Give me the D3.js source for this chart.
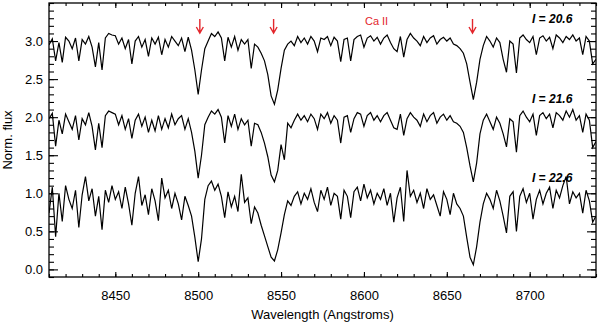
<!DOCTYPE html>
<html>
<head>
<meta charset="utf-8">
<script src="https://cdn.jsdelivr.net/npm/d3@7"></script>
<style>
  body { margin: 0; background: #fff; }
  svg { display: block; }
  text { font-family: "Liberation Sans", Arial, Helvetica, sans-serif; }
</style>
</head>
<body>
<svg id="chart"></svg>
<script>
// wavelength grid of the spectra (2 A bins)
const waveStart = 8410, waveStep = 2;

// I = 20.6
const fluxBright = [
  2.95, 3.03, 2.74, 2.98, 2.72, 3.05, 3.00, 2.90, 3.04, 2.74,
  3.02, 2.96, 3.06, 2.92, 2.66, 2.98, 2.62, 3.04, 3.10, 3.08,
  3.07, 2.96, 3.04, 2.90, 3.02, 2.70, 3.00, 3.06, 2.92, 3.02,
  2.80, 3.04, 2.96, 3.05, 2.82, 3.02, 2.92, 3.06, 3.00, 2.94,
  3.04, 2.86, 3.05, 2.88, 2.62, 2.30, 2.62, 2.90, 3.00, 3.10,
  3.06, 3.12, 3.04, 2.74, 3.05, 2.92, 3.06, 2.88, 3.02, 2.96,
  3.02, 2.64, 2.96, 2.92, 2.84, 2.74, 2.56, 2.28, 2.17, 2.36,
  2.64, 2.88, 2.96, 3.00, 2.94, 3.06, 2.98, 3.04, 2.96, 3.06,
  3.00, 2.86, 3.04, 3.02, 3.06, 2.94, 3.05, 3.00, 2.73, 3.02,
  3.04, 2.74, 3.02, 3.06, 3.08, 2.92, 3.04, 3.07, 3.00, 3.05,
  2.96, 3.04, 3.08, 2.98, 2.90, 2.86, 3.06, 2.79, 3.02, 3.10,
  3.04, 3.00, 2.94, 3.06, 2.98, 3.04, 3.07, 2.96, 3.02, 3.05,
  3.00, 3.04, 2.96, 2.94, 2.90, 2.84, 2.70, 2.46, 2.23, 2.46,
  2.76, 2.94, 3.06, 3.00, 2.92, 3.04, 2.98, 2.76, 2.59, 3.00,
  2.96, 2.58, 3.04, 3.08, 3.02, 2.98, 3.06, 2.82, 3.04, 3.07,
  3.00, 3.05, 2.90, 3.08, 3.04, 2.98, 3.06, 3.02, 3.08, 3.00,
  3.04, 2.82, 3.06, 3.00, 2.70, 2.76
];

// I = 21.6
const fluxMid = [
  1.98, 2.05, 1.62, 1.96, 1.78, 2.04, 1.94, 1.84, 2.02, 1.70,
  1.98, 1.90, 2.06, 1.88, 1.57, 1.92, 1.60, 2.02, 2.08, 2.06,
  2.04, 1.90, 2.02, 1.84, 1.98, 1.72, 1.96, 2.04, 1.88, 2.00,
  1.80, 1.96, 1.82, 2.02, 1.84, 1.98, 1.86, 2.04, 1.90, 1.98,
  2.02, 1.84, 1.98, 1.80, 1.55, 1.20, 1.50, 1.90, 2.00, 2.08,
  2.04, 2.10, 2.00, 1.66, 2.02, 1.88, 2.04, 1.84, 1.98, 1.90,
  1.96, 1.62, 1.92, 1.90, 1.80, 1.66, 1.48, 1.24, 1.15, 1.30,
  1.64, 1.44, 1.92, 1.86, 1.96, 2.04, 1.96, 2.02, 1.94, 2.04,
  1.98, 1.84, 2.04, 1.98, 2.06, 1.92, 2.02, 1.96, 1.66, 2.00,
  2.02, 1.80, 1.98, 2.06, 2.04, 1.88, 2.02, 2.06, 1.96, 2.02,
  1.94, 2.02, 2.06, 1.96, 1.86, 1.84, 2.04, 1.76, 1.98, 2.06,
  2.00, 1.96, 1.88, 2.04, 1.94, 2.02, 2.06, 1.92, 2.00, 2.04,
  1.96, 2.02, 1.94, 1.92, 1.88, 1.80, 1.60, 1.36, 1.15, 1.40,
  1.78, 1.96, 2.04, 1.94, 1.84, 2.00, 1.92, 1.78, 1.61, 1.98,
  1.94, 1.54, 2.02, 2.08, 2.00, 1.94, 2.04, 1.76, 2.02, 2.06,
  1.98, 2.04, 1.86, 2.06, 2.02, 1.96, 2.08, 2.00, 2.10, 1.96,
  2.02, 1.80, 2.04, 1.96, 1.60, 1.68
];

// I = 22.6
const fluxFaint = [
  0.74, 1.08, 0.43, 1.00, 0.63, 1.10, 0.92, 0.80, 1.04, 0.55,
  0.98, 1.22, 0.90, 1.06, 0.70, 0.96, 0.52, 1.04, 0.88, 1.10,
  0.92, 1.02, 0.80, 1.08, 0.86, 0.58, 1.00, 1.22, 0.84, 0.98,
  0.72, 1.06, 0.90, 0.64, 1.20, 0.94, 1.04, 0.80, 1.00, 0.86,
  0.65, 0.96, 0.84, 0.70, 0.42, 0.10, 0.40, 0.92, 1.10, 1.16,
  1.04, 1.12, 0.96, 0.68, 1.02, 0.82, 0.96, 0.76, 1.25, 0.88,
  0.94, 0.60, 0.82, 0.74, 0.58, 0.44, 0.30, 0.16, 0.11, 0.26,
  0.48, 0.72, 0.90, 0.84, 0.96, 1.02, 0.86, 1.00, 0.92, 1.06,
  0.88, 0.76, 1.04, 0.92, 1.08, 0.84, 1.00, 0.96, 0.66, 1.04,
  0.96, 0.68, 1.02, 1.08, 0.90, 1.12, 0.94, 1.04, 0.86, 1.00,
  0.92, 1.06, 0.84, 1.00, 0.62, 0.94, 1.08, 0.63, 1.30, 0.96,
  1.04, 0.88, 1.00, 0.80, 1.06, 0.92, 0.98, 0.84, 0.70, 1.02,
  0.92, 0.72, 1.00, 0.86, 0.80, 0.70, 0.42, 0.16, 0.06, 0.30,
  0.62, 0.86, 1.00, 0.92, 0.80, 1.04, 0.90, 0.70, 0.48, 0.96,
  1.02, 0.50, 0.96, 1.06, 0.88, 1.00, 0.66, 0.92, 1.04, 0.86,
  1.00, 1.08, 0.80, 1.04, 0.94, 1.10, 1.22, 0.86, 1.02, 0.94,
  1.00, 0.74, 1.04, 0.90, 0.62, 0.70
];

const spectra = [fluxBright, fluxMid, fluxFaint];
const magLabels = ["20.6", "21.6", "22.6"];
const caLines = [8501, 8545.5, 8665.5];   // arrows (observed Ca II triplet)

const xMajor = d3.range(8450, 8701, 50);
const xMinor = d3.range(8410, 8741, 10);
const yMajor = [0, 0.5, 1, 1.5, 2, 2.5, 3];
const yMinor = d3.range(-0.1, 3.51, 0.1);

const width = 600, height = 324;
const margin = { top: 3, left: 49, bottom: 47, right: 4 };
const red = "#e3262b";

const svg = d3.select("#chart").attr("width", width).attr("height", height);

const x = d3.scaleLinear().domain([8410, 8740]).range([margin.left, width - margin.right]);
const y = d3.scaleLinear().domain([-0.1, 3.5]).range([height - margin.bottom, margin.top]);

const x0 = x.range()[0], x1 = x.range()[1], yb = y.range()[0], yt = y.range()[1];

function styleAxis(g) {
  g.select(".domain").remove();
  g.selectAll("line").attr("stroke", "#000").attr("stroke-width", 1.1);
  g.selectAll("text").attr("font-family", '"Liberation Sans", Arial, sans-serif')
    .attr("font-size", 13).attr("fill", "#000");
}

// bottom
svg.append("g").attr("transform", `translate(0,${yb})`)
  .call(d3.axisBottom(x).tickValues(xMinor).tickSize(-3).tickFormat(""))
  .call(styleAxis);
svg.append("g").attr("transform", `translate(0,${yb})`)
  .call(d3.axisBottom(x).tickValues(xMajor).tickSize(-5).tickPadding(14).tickFormat(d3.format("d")))
  .call(styleAxis);
// top
svg.append("g").attr("transform", `translate(0,${yt})`)
  .call(d3.axisTop(x).tickValues(xMinor).tickSize(-3).tickFormat(""))
  .call(styleAxis);
svg.append("g").attr("transform", `translate(0,${yt})`)
  .call(d3.axisTop(x).tickValues(xMajor).tickSize(-5).tickFormat(""))
  .call(styleAxis);
// left
svg.append("g").attr("transform", `translate(${x0},0)`)
  .call(d3.axisLeft(y).tickValues(yMinor).tickSize(-5).tickFormat(""))
  .call(styleAxis);
svg.append("g").attr("transform", `translate(${x0},0)`)
  .call(d3.axisLeft(y).tickValues(yMajor).tickSize(-9).tickPadding(6).tickFormat(d3.format(".1f")))
  .call(styleAxis);
// right
svg.append("g").attr("transform", `translate(${x1},0)`)
  .call(d3.axisRight(y).tickValues(yMinor).tickSize(-5).tickFormat(""))
  .call(styleAxis);
svg.append("g").attr("transform", `translate(${x1},0)`)
  .call(d3.axisRight(y).tickValues(yMajor).tickSize(-9).tickFormat(""))
  .call(styleAxis);

svg.append("defs").append("clipPath").attr("id", "plot")
  .append("rect").attr("x", x0).attr("y", yt).attr("width", x1 - x0).attr("height", yb - yt);

const line = d3.line()
  .x((d, i) => x(waveStart + i * waveStep))
  .y(d => y(d));

svg.append("g").attr("clip-path", "url(#plot)")
  .selectAll("path.spec")
  .data(spectra)
  .join("path")
  .attr("class", "spec")
  .attr("d", line)
  .attr("fill", "none")
  .attr("stroke", "#000")
  .attr("stroke-width", 1.2)
  .attr("stroke-linejoin", "miter");

svg.append("rect")
  .attr("x", x0).attr("y", yt).attr("width", x1 - x0).attr("height", yb - yt)
  .attr("fill", "none").attr("stroke", "#000").attr("stroke-width", 1.3);

// magnitude labels
const labY = [3.24, 2.19, 1.15];
magLabels.forEach((m, i) => {
  svg.append("text")
    .attr("x", x(8739) - 22).attr("y", y(labY[i]))
    .attr("text-anchor", "end")
    .attr("font-size", 12).attr("font-weight", "bold").attr("font-style", "italic")
    .text(`I = ${m}`);
});

// Ca II arrows
caLines.forEach(w => {
  const cx = x(w);
  svg.append("path")
    .attr("d", `M${cx},19 L${cx},33 M${cx - 3.5},27 L${cx},33 L${cx + 3.5},27`)
    .attr("fill", "none").attr("stroke", red).attr("stroke-width", 1.4);
});
svg.append("text")
  .attr("x", x(8600) + 1).attr("y", 25)
  .attr("font-size", 11).attr("fill", red)
  .text("Ca II");

// axis titles
svg.append("text")
  .attr("x", (x0 + x1) / 2).attr("y", 319)
  .attr("text-anchor", "middle").attr("font-size", 13)
  .text("Wavelength (Angstroms)");

svg.append("text")
  .attr("transform", `translate(12,${(yb + yt) / 2}) rotate(-90)`)
  .attr("text-anchor", "middle").attr("font-size", 13)
  .text("Norm. flux");
</script>
</body>
</html>
